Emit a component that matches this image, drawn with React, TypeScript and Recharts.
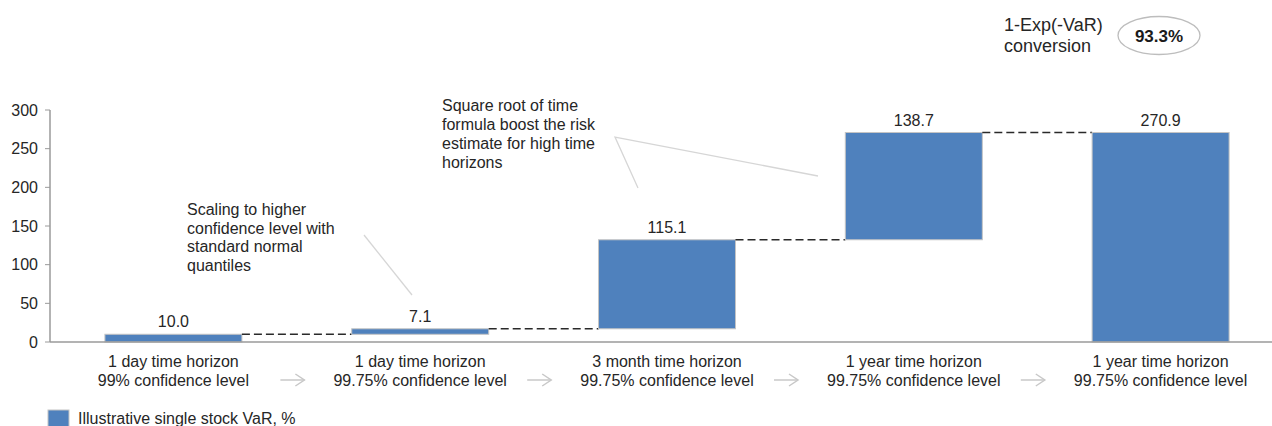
import React from "react";
import { ComposedChart, Bar, XAxis, YAxis, LabelList } from "recharts";

const horizonLabels = [
  "1 day time horizon",
  "1 day time horizon",
  "3 month time horizon",
  "1 year time horizon",
  "1 year time horizon",
];
const confidenceLabels = [
  "99% confidence level",
  "99.75% confidence level",
  "99.75% confidence level",
  "99.75% confidence level",
  "99.75% confidence level",
];
const varValues = [10.0, 7.1, 115.1, 138.7, 270.9];
const varBases = [0, 10.0, 17.1, 132.2, 0];
const yTicks = [0, 50, 100, 150, 200, 250, 300];

const data = horizonLabels.map((h, i) => ({
  name: `${h} ${confidenceLabels[i]} ${i}`,
  value: varValues[i],
  range: [varBases[i], varBases[i] + varValues[i]],
}));

const GAP = 0.2225;
const FONT = "'Liberation Sans', Arial, sans-serif";
const TEXT = "#262626";
const BLUE = "#4F81BD";

const BarShape = (props: any) => {
  const { x, y, width, height, index } = props;
  const gapLen = (width * 2 * GAP) / (1 - 2 * GAP);
  return (
    <g>
      <rect x={x} y={y} width={width} height={height} fill={BLUE} stroke="#c4c4c4" strokeWidth={1} />
      {index < data.length - 1 && (
        <line
          x1={x + width}
          x2={x + width + gapLen}
          y1={y}
          y2={y}
          stroke="#2a2a2a"
          strokeWidth={1.4}
          strokeDasharray="8 4"
        />
      )}
    </g>
  );
};

const XTick = (props: any) => {
  const { x, y, payload } = props;
  const i = payload.index;
  return (
    <g>
      <text x={x} y={y} textAnchor="middle" fontFamily={FONT} fontSize={16} fill={TEXT}>
        <tspan x={x} dy={17}>{horizonLabels[i]}</tspan>
        <tspan x={x} dy={19}>{confidenceLabels[i]}</tspan>
      </text>
      {i < data.length - 1 && (
        <g transform={`translate(${x + 119}, ${y + 30})`} stroke="#c8c8c8" strokeWidth={1.5} fill="none">
          <line x1={-12} y1={0} x2={12} y2={0} />
          <polyline points="3,-6 12,0 3,6" />
        </g>
      )}
    </g>
  );
};

export default function App() {
  return (
    <div
      style={{
        position: "absolute",
        left: 0,
        top: 0,
        width: 1272,
        height: 426,
        overflow: "hidden",
        background: "#fff",
        fontFamily: FONT,
      }}
    >
      <ComposedChart
        width={1284}
        height={426}
        data={data}
        margin={{ top: 110, right: 0, bottom: 34, left: 0 }}
        barCategoryGap={`${GAP * 100}%`}
      >
        <XAxis
          dataKey="name"
          tickLine={false}
          axisLine={{ stroke: "#9a9a9a", strokeWidth: 1.5 }}
          height={50}
          interval={0}
          tick={<XTick />}
        />
        <YAxis
          width={50}
          domain={[0, 300]}
          ticks={yTicks}
          interval={0}
          tickSize={5}
          tickMargin={7}
          axisLine={{ stroke: "#9a9a9a", strokeWidth: 1.5 }}
          tickLine={{ stroke: "#9a9a9a" }}
          tick={{ fill: TEXT, fontSize: 16, fontFamily: FONT }}
        />
        <Bar dataKey="range" isAnimationActive={false} shape={<BarShape />}>
          <LabelList
            dataKey="value"
            position="top"
            offset={7}
            formatter={(v: any) => Number(v).toFixed(1)}
            style={{ fill: TEXT, fontSize: 16, fontFamily: FONT }}
          />
        </Bar>
      </ComposedChart>
      <svg
        width={1272}
        height={426}
        style={{ position: "absolute", left: 0, top: 0, pointerEvents: "none" }}
        fontFamily={FONT}
      >
        <text x={187} fontSize={16} fill={TEXT}>
          <tspan x={187} y={215}>Scaling to higher</tspan>
          <tspan x={187} y={233.5}>confidence level with</tspan>
          <tspan x={187} y={252}>standard normal</tspan>
          <tspan x={187} y={270.5}>quantiles</tspan>
        </text>
        <line x1={364} y1={235} x2={412} y2={295} stroke="#d6d6d6" strokeWidth={1.3} />
        <text x={442} fontSize={16} fill={TEXT}>
          <tspan x={442} y={111}>Square root of time</tspan>
          <tspan x={442} y={130}>formula boost the risk</tspan>
          <tspan x={442} y={149}>estimate for high time</tspan>
          <tspan x={442} y={168}>horizons</tspan>
        </text>
        <polyline points="638,188 615,137 818,176" fill="none" stroke="#d6d6d6" strokeWidth={1.3} />
        <text x={1004} fontSize={18} fill={TEXT}>
          <tspan x={1004} y={31}>1-Exp(-VaR)</tspan>
          <tspan x={1004} y={52}>conversion</tspan>
        </text>
        <ellipse cx={1159} cy={35.5} rx={41} ry={19} fill="#fff" stroke="#bdbdbd" strokeWidth={1.3} />
        <text x={1159} y={41.5} textAnchor="middle" fontSize={17} fontWeight="bold" fill="#1a1a1a">
          93.3%
        </text>
        <rect x={48} y={410} width={21} height={20} fill={BLUE} stroke="#c4c4c4" />
        <text x={78} y={424} fontSize={16} fill={TEXT}>
          Illustrative single stock VaR, %
        </text>
      </svg>
    </div>
  );
}
